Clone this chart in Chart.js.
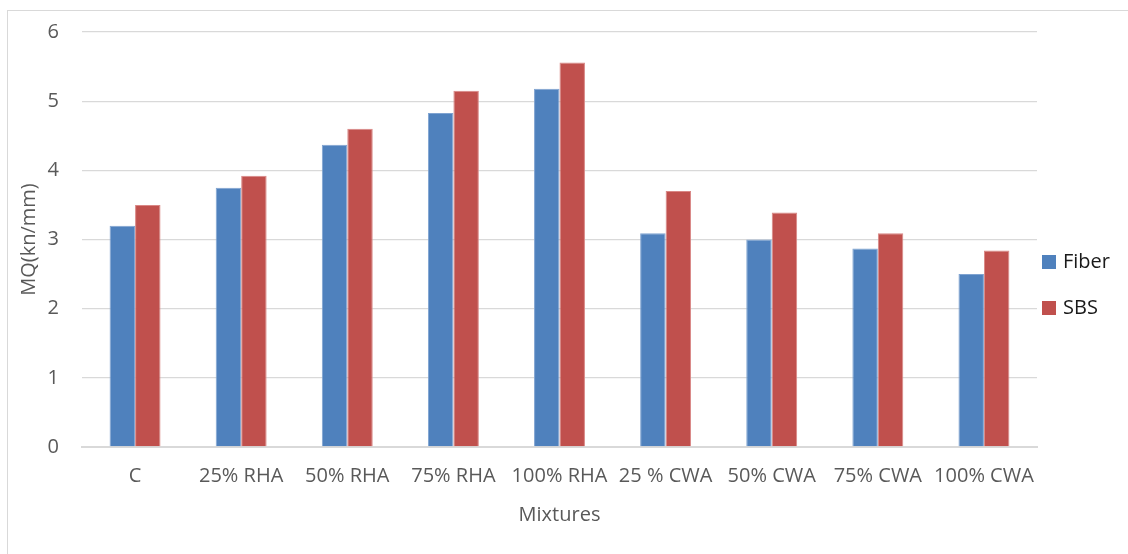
<!DOCTYPE html>
<html>
<head>
<meta charset="utf-8">
<script src="https://cdn.jsdelivr.net/npm/chart.js@4"></script>
<style>
  html, body { margin: 0; padding: 0; background: #fff; }
  #wrap { position: relative; width: 1128px; height: 554px; }
  #frame { position: absolute; left: 7px; top: 10px; right: 0; bottom: 0;
           border-left: 1px solid #d9d9d9; border-top: 1px solid #d9d9d9; pointer-events: none; }
  canvas { position: absolute; left: 0; top: 0; }
</style>
</head>
<body>
<div id="wrap">
  <canvas id="chart" width="1128" height="554"></canvas>
  <div id="frame"></div>
</div>
<script>
// Mixture categories along the x axis
const categories = ['C', '25% RHA', '50% RHA', '75% RHA', '100% RHA', '25 % CWA', '50% CWA', '75% CWA', '100% CWA'];
// Marshall quotient per mixture (kN/mm)
const fiberValues = [3.2, 3.75, 4.37, 4.83, 5.18, 3.09, 3.0, 2.87, 2.5];
const sbsValues = [3.5, 3.92, 4.6, 5.15, 5.56, 3.7, 3.39, 3.09, 2.84];
// Value axis tick labels
const yTicks = [0, 1, 2, 3, 4, 5, 6];

const FONT = '"Open Sans", "DejaVu Sans", sans-serif';
const TEXT = '#595959';
const GRID = '#d9d9d9';

// Vertical legend drawn to the right of the plot area
const sideLegend = {
  id: 'sideLegend',
  afterDraw(chart) {
    const ctx = chart.ctx;
    const x0 = chart.chartArea.right + 5;
    ctx.save();
    ctx.font = '20px ' + FONT;
    ctx.textBaseline = 'middle';
    ctx.textAlign = 'left';
    chart.data.datasets.forEach((ds, i) => {
      const cy = 262 + i * 46;
      ctx.fillStyle = ds.backgroundColor;
      ctx.fillRect(x0, cy - 7, 14, 14);
      ctx.fillStyle = '#1a1a1a';
      ctx.fillText(ds.label, x0 + 21, cy);
    });
    ctx.restore();
  }
};

new Chart(document.getElementById('chart'), {
  type: 'bar',
  data: {
    labels: categories,
    datasets: [
      { label: 'Fiber', data: fiberValues, backgroundColor: '#4f81bd', borderColor: '#7fa3d1', borderWidth: 1,
        categoryPercentage: 0.48, barPercentage: 1.0 },
      { label: 'SBS', data: sbsValues, backgroundColor: '#c0504d', borderColor: '#d98785', borderWidth: 1,
        categoryPercentage: 0.48, barPercentage: 1.0 }
    ]
  },
  plugins: [sideLegend],
  options: {
    responsive: false,
    animation: false,
    devicePixelRatio: 1,
    layout: { padding: { left: 13, top: 32, bottom: 24, right: 91 } },
    plugins: {
      tooltip: { enabled: false },
      legend: { display: false }
    },
    scales: {
      x: {
        afterFit: (axis) => { axis.height = 83; },
        grid: { display: false, drawTicks: false },
        border: { color: GRID, width: 2 },
        ticks: { font: { family: FONT, size: 20 }, color: TEXT, padding: 17, maxRotation: 0, autoSkip: false },
        title: { display: true, text: 'Mixtures', font: { family: FONT, size: 20 }, color: TEXT, padding: { top: 14, bottom: 3 } }
      },
      y: {
        min: 0,
        max: 6,
        afterFit: (axis) => { axis.width = 69; axis.paddingTop = 0; axis.paddingBottom = 0; },
        afterBuildTicks: (axis) => { axis.ticks = yTicks.map(v => ({ value: v })); },
        grid: { color: GRID, lineWidth: 1.3, drawTicks: false },
        border: { display: false },
        ticks: { font: { family: FONT, size: 20 }, color: TEXT, padding: 23 },
        title: { display: true, text: 'MQ(kn/mm)', font: { family: FONT, size: 20 }, color: TEXT, padding: { top: 4, bottom: 4 } }
      }
    }
  }
});
</script>
</body>
</html>
